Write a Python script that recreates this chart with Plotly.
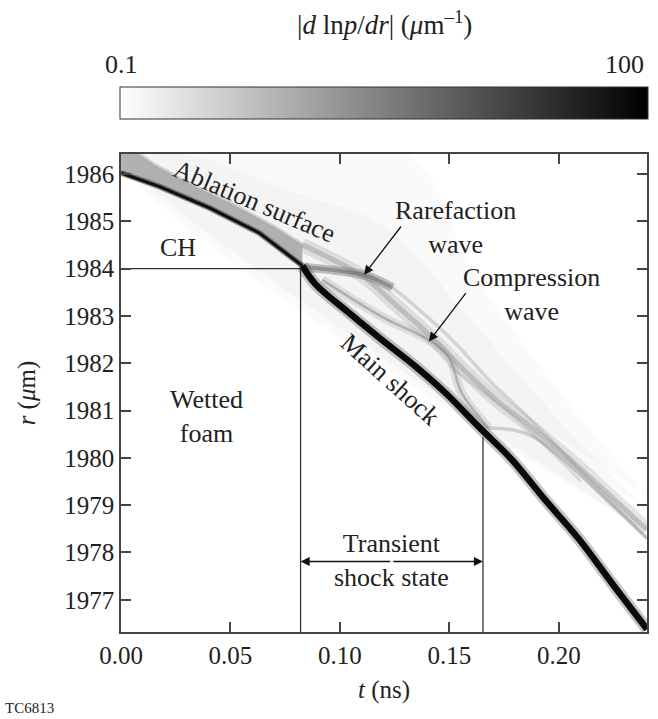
import plotly.graph_objects as go

# ---------------- data (t in ns, r in um) ----------------
# main shock, before and after the CH/foam interface
shock_pre_t = [0.0, 0.0177, 0.0405, 0.0632, 0.0828]
shock_pre_r = [1986.02, 1985.73, 1985.28, 1984.75, 1984.06]
shock_post_t = [0.0828, 0.089, 0.1042, 0.1192, 0.1345, 0.1482, 0.1633, 0.1785, 0.1937, 0.2088, 0.2247, 0.2402]
shock_post_r = [1984.06, 1983.66, 1983.06, 1982.49, 1981.93, 1981.37, 1980.66, 1979.96, 1979.11, 1978.30, 1977.32, 1976.38]

# upper edge of the ablation band (ablation surface)
abl_pre_t = [0.0, 0.008, 0.015, 0.03, 0.05, 0.07, 0.0828]
abl_pre_r = [1986.5, 1986.42, 1986.2, 1985.82, 1985.38, 1984.88, 1984.5]
abl_post_t = [0.0828, 0.097, 0.111, 0.125, 0.1406, 0.156, 0.172, 0.186, 0.20, 0.22, 0.2402]
abl_post_r = [1984.5, 1984.18, 1983.82, 1983.25, 1982.6, 1981.88, 1981.2, 1980.7, 1980.17, 1979.35, 1978.48]

# outer limit of the faint haze above the ablation surface
haze_t = [0.2402, 0.20, 0.16, 0.13, 0.0]
haze_r = [1979.2, 1981.4, 1984.0, 1986.42, 1986.42]
# inner, slightly darker haze close to the ablation surface
haze2_t = [0.2402, 0.20, 0.16, 0.12, 0.08, 0.03, 0.0]
haze2_r = [1978.9, 1980.8, 1982.9, 1984.9, 1985.6, 1986.42, 1986.42]

# rarefaction wave
rare_t = [0.0828, 0.098, 0.112, 0.124]
rare_r = [1984.03, 1983.96, 1983.85, 1983.6]

# compression wave
comp_t = [0.0919, 0.1192, 0.1406, 0.1497, 0.1556, 0.1679]
comp_r = [1983.76, 1982.98, 1982.49, 1982.13, 1981.37, 1980.63]

# secondary faint waves
wave2_t = [0.124, 0.15, 0.17, 0.185, 0.20, 0.22, 0.2402]
wave2_r = [1983.6, 1982.55, 1981.55, 1980.9, 1980.2, 1979.25, 1978.3]
wave3_t = [0.1679, 0.18, 0.19, 0.205, 0.222, 0.2402]
wave3_r = [1980.63, 1980.58, 1980.4, 1979.85, 1979.1, 1978.3]
wave4_t = [0.15, 0.165, 0.18, 0.195, 0.21]
wave4_r = [1981.95, 1981.4, 1980.85, 1980.2, 1979.5]

# interface / time markers
ch_interface_r = 1984.0
transient_t = [0.082, 0.1653]
transient_top_r = 1980.44
transient_arrow_r = 1977.81

# axes
x_range = [0.0, 0.2402]
y_range = [1976.32, 1986.42]
x_ticks = [0.0, 0.05, 0.10, 0.15, 0.20]
x_ticktext = ["0.00", "0.05", "0.10", "0.15", "0.20"]
y_ticks = [1977, 1978, 1979, 1980, 1981, 1982, 1983, 1984, 1985, 1986]

# colour bar (log10 of |d ln p/dr|)
cbar_min, cbar_max = -1, 2
cbar_labels = ["0.1", "100"]

FONT = "Liberation Serif"
TXT = "#222222"

fig = go.Figure()

def line(t, r, color, width, shape="spline"):
    fig.add_trace(go.Scatter(x=t, y=r, mode="lines", line=dict(color=color, width=width, shape=shape),
                             hoverinfo="skip", showlegend=False))

def poly(t, r, color, shape="linear"):
    fig.add_trace(go.Scatter(x=t, y=r, mode="lines", fill="toself", fillcolor=color,
                             line=dict(width=0, shape=shape), hoverinfo="skip", showlegend=False))

# faint haze above the ablation surface
poly(haze_t + abl_post_t[::-1] + abl_pre_t[::-1],
     haze_r + abl_post_r[::-1] + abl_pre_r[::-1], "rgba(0,0,0,0.02)", shape="spline")
poly(haze2_t + abl_post_t[::-1] + abl_pre_t[::-1],
     haze2_r + abl_post_r[::-1] + abl_pre_r[::-1], "rgba(0,0,0,0.022)", shape="spline")

# ablation band (between the shock and the ablation surface)
poly(shock_pre_t + abl_pre_t[::-1], shock_pre_r + abl_pre_r[::-1], "rgba(120,120,120,0.55)")
line(abl_pre_t, abl_pre_r, "rgba(170,170,170,0.5)", 4, shape="linear")
line(shock_pre_t, shock_pre_r, "rgba(70,70,70,0.55)", 6, shape="linear")

# ablation surface after the interface
line(abl_post_t, abl_post_r, "rgba(170,170,170,0.3)", 14)
line(abl_post_t, abl_post_r, "rgba(130,130,130,0.35)", 5)

# rarefaction, compression and secondary waves
line(rare_t, rare_r, "rgba(120,120,120,0.45)", 9)
line(rare_t, rare_r, "rgba(100,100,100,0.5)", 4)
line(comp_t, comp_r, "rgba(150,150,150,0.25)", 9)
line(comp_t, comp_r, "rgba(130,130,130,0.5)", 2.5)
line(wave2_t, wave2_r, "rgba(150,150,150,0.35)", 3.5)
line(wave3_t, wave3_r, "rgba(150,150,150,0.4)", 3.5)
line(wave4_t, wave4_r, "rgba(160,160,160,0.3)", 3)

# main shock
line(shock_pre_t, shock_pre_r, "#111111", 3.2, shape="linear")
line(shock_post_t, shock_post_r, "rgba(90,90,90,0.35)", 12)
line(shock_post_t, shock_post_r, "#0a0a0a", 6.5)

# CH / foam boundary and transient-state markers
line([x_range[0], transient_t[0], transient_t[0]], [ch_interface_r, ch_interface_r, y_range[0]],
     "#333333", 1.3, shape="linear")
line([transient_t[1], transient_t[1]], [y_range[0], transient_top_r], "#333333", 1.3, shape="linear")

# colour bar
fig.add_trace(go.Scatter(
    x=[x_range[0]], y=[y_range[0] - 5], mode="markers", hoverinfo="skip", showlegend=False,
    marker=dict(color=[0], cmin=cbar_min, cmax=cbar_max, opacity=0,
                colorscale=[[0, "#ffffff"], [1, "#000000"]], showscale=True,
                colorbar=dict(orientation="h", x=0.5, xanchor="center", y=1.0711, yanchor="bottom",
                              len=528, lenmode="pixels", thickness=32, thicknessmode="pixels",
                              xpad=0, ypad=0, outlinewidth=1, outlinecolor="#333333",
                              showticklabels=False, ticks=""))))

ann = []
def text(x, y, s, size=26, angle=0, xref="x", yref="y", xanchor="center", yanchor="middle"):
    ann.append(dict(x=x, y=y, xref=xref, yref=yref, text=s, showarrow=False, textangle=angle,
                    xanchor=xanchor, yanchor=yanchor, font=dict(family=FONT, size=size, color=TXT)))

def arrow(x, y, ax, ay):
    ann.append(dict(x=x, y=y, ax=ax, ay=ay, xref="x", yref="y", axref="x", ayref="y", text="",
                    showarrow=True, arrowhead=2, arrowsize=1.4, arrowwidth=1.3, arrowcolor="#111111",
                    standoff=0, startstandoff=0))

text(0.0610, 1985.41, "Ablation surface", angle=23)
text(0.1228, 1981.65, "Main shock", angle=42)
text(0.0259, 1984.44, "CH")
text(0.0391, 1980.87, "Wetted<br>foam")
text(0.1528, 1984.87, "Rarefaction<br>wave")
text(0.1874, 1983.45, "Compression<br>wave")
text(0.1237, 1977.84, "Transient<br>shock state")
arrow(0.111, 1983.87, 0.1284, 1984.92)
arrow(0.1406, 1982.46, 0.158, 1983.51)
mid_t = (transient_t[0] + transient_t[1]) / 2
arrow(transient_t[0], transient_arrow_r, mid_t, transient_arrow_r)
arrow(transient_t[1], transient_arrow_r, mid_t, transient_arrow_r)

# axis titles and colour-bar labels (paper coordinates)
text(0.5, -0.122, "<i>t</i> (ns)", size=25, xref="paper", yref="paper")
text(-0.178, 0.500, "<i>r</i> (<i>μ</i>m)", size=25, angle=-90, xref="paper", yref="paper")
text(0.5, 1.275, "|<i>d</i> ln<i>p</i>/<i>dr</i>| (<i>μ</i>m<sup>–1</sup>)", size=27, xref="paper", yref="paper")
text(0.0, 1.188, cbar_labels[0], size=26, xref="paper", yref="paper")
text(0.998, 1.188, cbar_labels[1], size=26, xref="paper", yref="paper", xanchor="right")
text(-0.2235, -0.159, "TC6813", size=15, xref="paper", yref="paper", xanchor="left")

axis_common = dict(showgrid=False, zeroline=False, showline=True, mirror="ticks", linecolor="#444444",
                   linewidth=1.5, ticks="inside", ticklen=10, tickwidth=1.5, tickcolor="#444444",
                   tickfont=dict(family=FONT, size=25, color=TXT))

fig.update_layout(
    width=658, height=719, margin=dict(l=121, r=9, t=154, b=87),
    paper_bgcolor="white", plot_bgcolor="white",
    font=dict(family=FONT),
    xaxis=dict(range=x_range, tickvals=x_ticks, ticktext=x_ticktext, **axis_common),
    yaxis=dict(range=y_range, tickvals=y_ticks, **axis_common),
    annotations=ann, showlegend=False,
)

fig.write_html("out.html")
